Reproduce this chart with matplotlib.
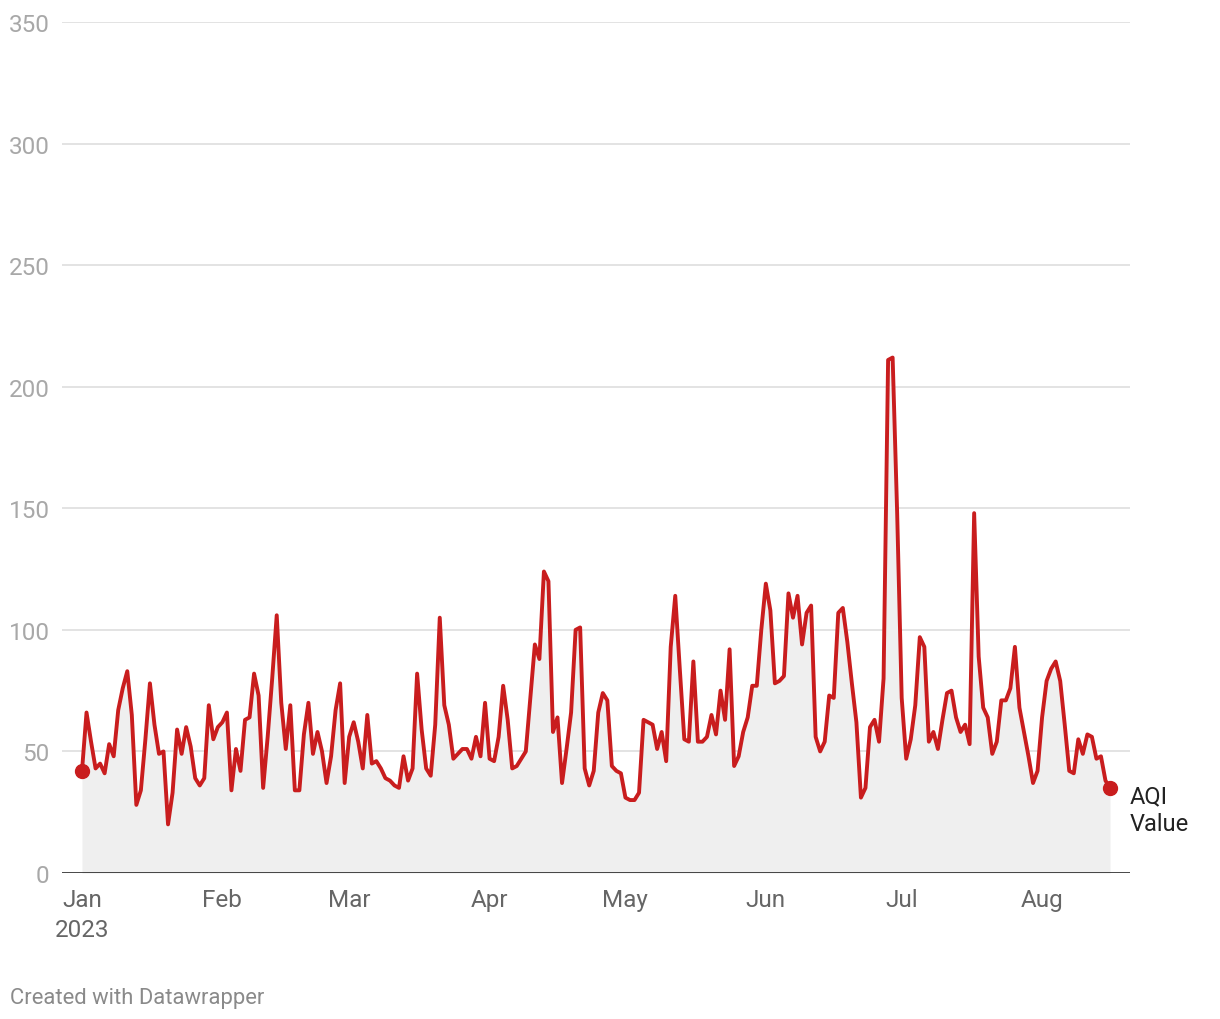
import numpy as np
import pandas as pd
import matplotlib
matplotlib.use("Agg")
import matplotlib.pyplot as plt
import matplotlib.dates as mdates

plt.rcParams['font.family'] = ['Roboto', 'DejaVu Sans']

start_date = "2023-01-01"
aqi_values = [
    42, 66, 54, 43, 45, 41, 53, 48, 67, 76, 83, 65, 28, 34, 55, 78, 61, 49, 50, 20,
    33, 59, 49, 60, 52, 39, 36, 39, 69, 55, 60, 62, 66, 34, 51, 42, 63, 64, 82, 73,
    35, 56, 80, 106, 70, 51, 69, 34, 34, 57, 70, 49, 58, 50, 37, 48, 67, 78, 37, 56,
    62, 54, 43, 65, 45, 46, 43, 39, 38, 36, 35, 48, 38, 43, 82, 59, 43, 40, 61, 105,
    69, 61, 47, 49, 51, 51, 47, 56, 48, 70, 47, 46, 56, 77, 63, 43, 44, 47, 50, 72,
    94, 88, 124, 120, 58, 64, 37, 51, 66, 100, 101, 43, 36, 42, 66, 74, 71, 44, 42, 41,
    31, 30, 30, 33, 63, 62, 61, 51, 58, 46, 93, 114, 84, 55, 54, 87, 54, 54, 56, 65,
    57, 75, 63, 92, 44, 48, 58, 64, 77, 77, 100, 119, 108, 78, 79, 81, 115, 105, 114, 94,
    107, 110, 56, 50, 54, 73, 72, 107, 109, 95, 78, 62, 31, 35, 60, 63, 54, 80, 211, 212,
    148, 72, 47, 55, 69, 97, 93, 54, 58, 51, 63, 74, 75, 64, 58, 61, 53, 148, 89, 68,
    64, 49, 54, 71, 71, 76, 93, 68, 58, 48, 37, 42, 64, 79, 84, 87, 79, 61, 42, 41,
    55, 49, 57, 56, 47, 48, 38, 35,
]
dates = pd.date_range(start_date, periods=len(aqi_values), freq="D")
y_ticks = [0, 50, 100, 150, 200, 250, 300, 350]
month_ticks = pd.date_range("2023-01-01", "2023-08-01", freq="MS")
month_labels = ["Jan\n2023", "Feb", "Mar", "Apr", "May", "Jun", "Jul", "Aug"]
series_label = "AQI\nValue"

RED = "#c91d1e"
FILL = "#efefef"
GRID = "#e3e3e3"

fig = plt.figure(figsize=(12.2, 10.2), dpi=100)
ax = fig.add_axes([62 / 1220, 146 / 1020, (1130 - 62) / 1220, (997 - 146) / 1020])

x = mdates.date2num(dates)
ax.fill_between(x, 0, aqi_values, color=FILL, lw=0, zorder=1)
ax.plot(x, aqi_values, color=RED, lw=2.8, solid_joinstyle="round", zorder=3)
ax.plot([x[0], x[-1]], [aqi_values[0], aqi_values[-1]], "o", color=RED, ms=10, zorder=4)

px_day = (1110.5 - 82) / (len(aqi_values) - 1)
pad_days = 20 / px_day
ax.set_xlim(x[0] - pad_days, x[-1] + pad_days)
ax.set_ylim(0, 350)

for t in y_ticks[1:]:
    ax.axhline(t, color=GRID, lw=1.4, zorder=0)
ax.axhline(0, color="#111111", lw=1.8, zorder=5)

ax.set_yticks(y_ticks)
ax.set_yticklabels([str(t) for t in y_ticks])
ax.tick_params(axis="y", length=0, pad=9, labelsize=17.5, labelcolor="#a8a8a8")

ax.set_xticks(mdates.date2num(month_ticks))
ax.set_xticklabels(month_labels)
ax.tick_params(axis="x", length=0, pad=11, labelsize=17.5, labelcolor="#666666")
for lbl in ax.get_xticklabels():
    lbl.set_linespacing(1.36)

for s in ax.spines.values():
    s.set_visible(False)

ax.text(x[-1] + 20 / px_day, aqi_values[-1] + 1.6, series_label, ha="left", va="top",
        fontsize=17, color="#222222", linespacing=1.28,
        transform=ax.transData)
fig.text(10 / 1220, 1 - 999 / 1020, "Created with Datawrapper", ha="left", va="center",
         fontsize=15.8, color="#8a8a8a")

fig.savefig("out.png", dpi=100, facecolor="white")
